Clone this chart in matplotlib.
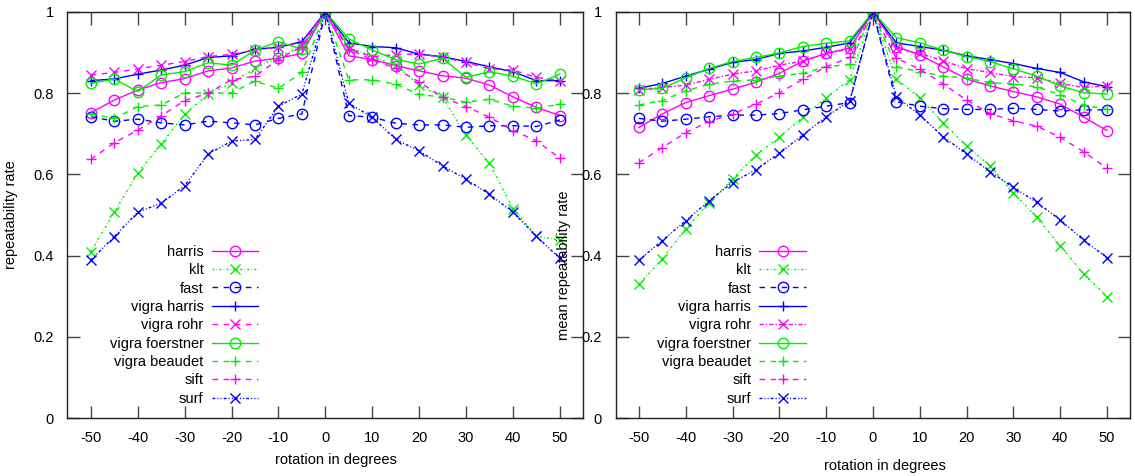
import matplotlib
matplotlib.use("Agg")
import matplotlib.pyplot as plt

plt.rcParams["font.family"] = ["Liberation Sans", "DejaVu Sans"]
plt.rcParams["font.size"] = 10.5

angles = [-50, -45, -40, -35, -30, -25, -20, -15, -10, -5, 0,
          5, 10, 15, 20, 25, 30, 35, 40, 45, 50]
xticks = [-50, -40, -30, -20, -10, 0, 10, 20, 30, 40, 50]
yticks = [0, 0.2, 0.4, 0.6, 0.8, 1]
ytick_labels = ["0", "0.2", "0.4", "0.6", "0.8", "1"]

names = ["harris", "klt", "fast", "vigra harris", "vigra rohr",
         "vigra foerstner", "vigra beaudet", "sift", "surf"]

# left panel: repeatability rate
harris_l = [0.752, 0.783, 0.808, 0.826, 0.836, 0.855, 0.862, 0.879, 0.886, 0.898, 1.0,
            0.892, 0.883, 0.868, 0.855, 0.843, 0.837, 0.820, 0.791, 0.765, 0.745]
klt_l = [0.410, 0.507, 0.603, 0.675, 0.748, 0.797, 0.825, 0.861, 0.890, 0.915, 1.0,
         0.912, 0.890, 0.870, 0.820, 0.790, 0.697, 0.627, 0.516, 0.448, 0.438]
fast_l = [0.742, 0.731, 0.736, 0.727, 0.722, 0.731, 0.727, 0.722, 0.738, 0.749, 1.0,
          0.745, 0.741, 0.726, 0.722, 0.722, 0.716, 0.720, 0.720, 0.718, 0.734]
vharris_l = [0.831, 0.835, 0.847, 0.857, 0.869, 0.888, 0.892, 0.908, 0.913, 0.927, 1.0,
             0.924, 0.915, 0.912, 0.896, 0.890, 0.878, 0.865, 0.853, 0.831, 0.831]
vrohr_l = [0.845, 0.851, 0.860, 0.869, 0.878, 0.890, 0.896, 0.906, 0.915, 0.923, 1.0,
           0.910, 0.890, 0.895, 0.897, 0.888, 0.876, 0.860, 0.857, 0.839, 0.831]
vfoer_l = [0.824, 0.835, 0.804, 0.845, 0.853, 0.875, 0.869, 0.906, 0.927, 0.908, 1.0,
           0.934, 0.906, 0.883, 0.872, 0.886, 0.839, 0.853, 0.842, 0.823, 0.847]
vbeau_l = [0.749, 0.738, 0.767, 0.771, 0.801, 0.800, 0.801, 0.830, 0.812, 0.851, 1.0,
           0.833, 0.833, 0.822, 0.797, 0.790, 0.778, 0.785, 0.768, 0.763, 0.773]
sift_l = [0.637, 0.678, 0.709, 0.744, 0.782, 0.800, 0.833, 0.842, 0.883, 0.915, 1.0,
          0.908, 0.883, 0.861, 0.828, 0.790, 0.767, 0.741, 0.708, 0.683, 0.640]
surf_l = [0.389, 0.447, 0.507, 0.529, 0.572, 0.650, 0.682, 0.686, 0.768, 0.798, 1.0,
          0.775, 0.741, 0.686, 0.658, 0.621, 0.588, 0.551, 0.507, 0.448, 0.393]

# right panel: mean repeatability rate
harris_r = [0.716, 0.749, 0.777, 0.794, 0.810, 0.827, 0.849, 0.879, 0.898, 0.911, 1.0,
            0.915, 0.894, 0.865, 0.835, 0.818, 0.804, 0.791, 0.773, 0.741, 0.708]
klt_r = [0.329, 0.392, 0.466, 0.530, 0.588, 0.648, 0.691, 0.741, 0.789, 0.833, 1.0,
         0.835, 0.789, 0.727, 0.670, 0.621, 0.555, 0.494, 0.424, 0.355, 0.299]
fast_r = [0.738, 0.731, 0.736, 0.742, 0.746, 0.746, 0.750, 0.759, 0.768, 0.777, 1.0,
          0.779, 0.768, 0.762, 0.760, 0.760, 0.763, 0.760, 0.756, 0.759, 0.759]
vharris_r = [0.812, 0.824, 0.842, 0.859, 0.876, 0.883, 0.898, 0.904, 0.913, 0.924, 1.0,
             0.924, 0.915, 0.906, 0.892, 0.883, 0.873, 0.861, 0.851, 0.828, 0.816]
vrohr_r = [0.809, 0.814, 0.820, 0.834, 0.847, 0.855, 0.869, 0.879, 0.898, 0.908, 1.0,
           0.911, 0.898, 0.880, 0.860, 0.851, 0.841, 0.838, 0.824, 0.814, 0.818]
vfoer_r = [0.808, 0.812, 0.838, 0.861, 0.878, 0.888, 0.899, 0.915, 0.923, 0.929, 1.0,
           0.937, 0.924, 0.906, 0.890, 0.878, 0.860, 0.842, 0.818, 0.801, 0.798]
vbeau_r = [0.771, 0.782, 0.806, 0.822, 0.830, 0.833, 0.842, 0.849, 0.865, 0.871, 1.0,
           0.865, 0.853, 0.842, 0.837, 0.826, 0.823, 0.816, 0.796, 0.771, 0.760]
sift_r = [0.629, 0.666, 0.703, 0.730, 0.749, 0.773, 0.801, 0.834, 0.865, 0.888, 1.0,
          0.886, 0.859, 0.823, 0.783, 0.750, 0.732, 0.719, 0.691, 0.656, 0.615]
surf_r = [0.389, 0.437, 0.486, 0.535, 0.580, 0.612, 0.652, 0.697, 0.742, 0.780, 1.0,
          0.791, 0.746, 0.693, 0.650, 0.607, 0.568, 0.531, 0.488, 0.438, 0.395]

left_series = [harris_l, klt_l, fast_l, vharris_l, vrohr_l, vfoer_l, vbeau_l, sift_l, surf_l]
right_series = [harris_r, klt_r, fast_r, vharris_r, vrohr_r, vfoer_r, vbeau_r, sift_r, surf_r]

MAG, GRN, BLU = "#ff00ff", "#00ee00", "#0000ff"
dashed = (0, (4, 4))
dotted = (0, (1.5, 1.5, 0.5, 1.5))
dashdot2 = (0, (2, 1.5, 0.8, 1.5, 0.8, 1.5))
dashdot = (0, (3, 1.5, 1, 1.5))

# color, marker, linestyle (left), linestyle (right)
styles = [
    (MAG, "o", "-", "-"),
    (GRN, "x", dotted, dotted),
    (BLU, "o", dashed, dashed),
    (BLU, "+", "-", "-"),
    (MAG, "x", dashed, dashdot),
    (GRN, "o", "-", "-"),
    (GRN, "+", dashed, dashed),
    (MAG, "+", dashed, dashed),
    (BLU, "x", dashdot2, dashdot2),
]

fig = plt.figure(figsize=(11.35, 4.76), dpi=100)
ax1 = fig.add_axes([0.0594, 0.1218, 0.4545, 0.853])
ax2 = fig.add_axes([0.5423, 0.1218, 0.4537, 0.853])


def draw(ax, series, right):
    for name, ys, (c, m, ls_l, ls_r) in zip(names, series, styles):
        ax.plot(angles, ys, color=c, marker=m, linestyle=ls_r if right else ls_l,
                linewidth=1.0, markersize=7.5, markerfacecolor="none",
                markeredgewidth=1.0, label=name)
    ax.set_xlim(-55, 55)
    ax.set_ylim(0, 1)
    ax.set_xticks(xticks)
    ax.set_xticklabels([str(t) for t in xticks])
    ax.set_yticks(yticks)
    ax.set_yticklabels(ytick_labels)
    ax.tick_params(direction="in", length=9, width=1, color="#444444",
                   top=True, right=True, labelsize=10.5)
    ax.tick_params(axis="x", pad=9)
    ax.tick_params(axis="y", pad=10)
    for sp in ax.spines.values():
        sp.set_linewidth(1.0)
        sp.set_color("#222222")
    leg = ax.legend(loc="lower right", bbox_to_anchor=(0.37, 0.03),
                    markerfirst=False, frameon=False, borderaxespad=0,
                    borderpad=0, handlelength=3.2, handletextpad=0.55,
                    labelspacing=0.3, fontsize=10.5)
    return leg


draw(ax1, left_series, False)
draw(ax2, right_series, True)

ax1.set_ylabel("repeatability rate", fontsize=10.5)
ax1.yaxis.set_label_coords(-0.095, 0.5)
ax1.set_xlabel("rotation in degrees", fontsize=10.5)
ax1.xaxis.set_label_coords(0.52, -0.086)

ax2.set_ylabel("mean repeatability rate", fontsize=10.5)
ax2.yaxis.set_label_coords(-0.086, 0.377)
ax2.set_xlabel("rotation in degrees", fontsize=10.5)
ax2.xaxis.set_label_coords(0.523, -0.101)

fig.savefig("out.png", dpi=100)
